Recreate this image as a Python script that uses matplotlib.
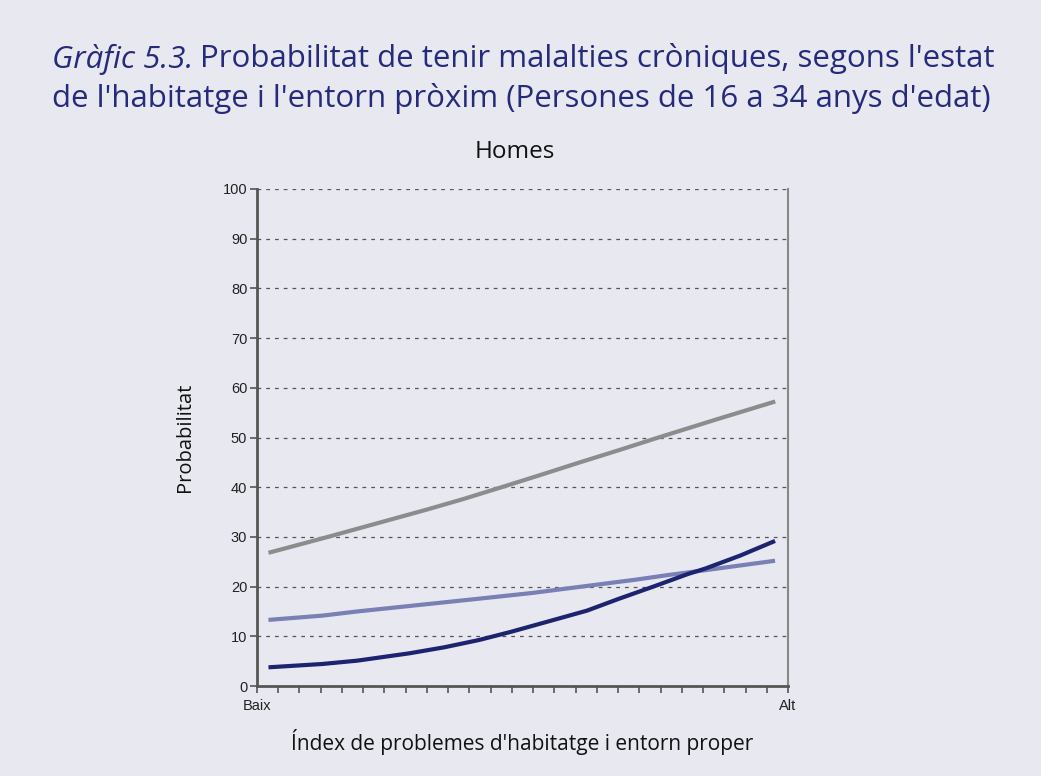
import numpy as np
import matplotlib.pyplot as plt

# punts llegits del gràfic (eix x en unitats de marca, 0 = Baix, 25 = Alt)
x_gris = [0.54, 3.08, 5.54, 8.0, 9.7, 11.44, 13.3, 15.2, 17.0, 18.9, 21.6, 24.4]
y_gris = [26.8, 29.7, 32.6, 35.5, 37.6, 39.9, 42.4, 45.0, 47.4, 50.0, 53.6, 57.25]

x_blau_clar = [0.54, 3.08, 4.72, 7.18, 10.3, 12.92, 14.56, 16.2, 17.84, 19.48, 21.1, 24.39]
y_blau_clar = [13.3, 14.16, 15.0, 16.1, 17.5, 18.7, 19.6, 20.5, 21.4, 22.4, 23.3, 25.2]

x_blau_fosc = [0.54, 3.08, 4.72, 7.18, 8.82, 10.46, 11.93, 13.74, 15.54, 17.02,
               18.66, 20.3, 21.1, 22.75, 24.39]
y_blau_fosc = [3.76, 4.43, 5.1, 6.58, 7.79, 9.26, 10.87, 13.02, 15.17, 17.52,
               20.0, 22.55, 23.62, 26.24, 29.19]

y_ticks = list(range(0, 101, 10))
x_labels = ['Baix', 'Alt']

bg = '#e8e8f1'
navy = '#252b7a'

plt.rcParams['font.family'] = ['Open Sans', 'DejaVu Sans']

fig = plt.figure(figsize=(10.41, 7.76), dpi=100, facecolor=bg)
ax = fig.add_axes([257/1041, 1-686/776, (788-257)/1041, (686-189)/776])
ax.set_facecolor(bg)

for yv in y_ticks[1:]:
    ax.axhline(yv, color='#555555', lw=0.9, ls=(0, (3, 4)), zorder=1)

ax.plot(x_gris, y_gris, color='#8c8c8c', lw=3, solid_capstyle='butt', zorder=3)
ax.plot(x_blau_clar, y_blau_clar, color='#7a7fb4', lw=3, solid_capstyle='butt', zorder=3)
ax.plot(x_blau_fosc, y_blau_fosc, color='#1c2470', lw=3, solid_capstyle='butt', zorder=4)

ax.set_xlim(0, 25)
ax.set_ylim(0, 100)
ax.set_yticks(y_ticks)
ax.set_xticks(range(26))
ax.set_xticklabels([x_labels[0]] + [''] * 24 + [x_labels[1]])
ax.tick_params(axis='both', direction='out', length=5, width=1.2, color='#555555',
               labelsize=10.5, labelcolor='#222222')
ax.tick_params(axis='x', pad=4)
ax.tick_params(axis='y', pad=2)
for lbl in ax.get_xticklabels() + ax.get_yticklabels():
    lbl.set_family(['Liberation Sans', 'DejaVu Sans'])

for s in ['left', 'bottom']:
    ax.spines[s].set_color('#555555')
    ax.spines[s].set_linewidth(2)
ax.spines['right'].set_color('#888888')
ax.spines['right'].set_linewidth(1.5)
ax.spines['top'].set_visible(False)

ax.set_ylabel('Probabilitat', fontsize=14.5, color='#111111', labelpad=20)
ax.set_xlabel("Índex de problemes d'habitatge i entorn proper", fontsize=15,
              color='#111111', labelpad=12)

fig.text(515/1041, 1-152/776, 'Homes', ha='center', va='center', fontsize=17.5, color='#111111')

fs_title = 22.5
t1 = fig.text(52/1041, 1-59/776, 'Gràfic 5.3.', fontsize=fs_title, color=navy, style='italic',
              va='center', ha='left')
fig.canvas.draw()
bb = t1.get_window_extent(renderer=fig.canvas.get_renderer())
fig.text((bb.x1 + 7)/1041, 1-59/776,
         "Probabilitat de tenir malalties cròniques, segons l'estat",
         fontsize=fs_title, color=navy, va='center', ha='left')
fig.text(52/1041, 1-99/776,
         "de l'habitatge i l'entorn pròxim (Persones de 16 a 34 anys d'edat)",
         fontsize=fs_title, color=navy, va='center', ha='left')

fig.savefig('out.png', dpi=100, facecolor=bg)
